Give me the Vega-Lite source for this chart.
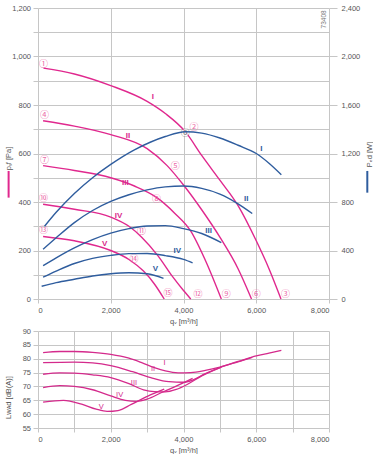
{
  "$schema": "https://vega.github.io/schema/vega-lite/v6.json",
  "background": "white",
  "padding": {"left": 4, "top": 4, "right": 0, "bottom": 0},
  "bounds": "flush",
  "spacing": 32,
  "config": {
    "font": "Liberation Sans",
    "view": {"stroke": null},
    "axis": {
      "grid": true, "gridColor": "#c6c6c6", "gridWidth": 1, "domain": false, "labelOverlap": false,
      "tickColor": "#c6c6c6", "tickSize": 5, "labelFontSize": 7.5, "labelColor": "#555555",
      "titleFontSize": 7.5, "titleFontWeight": "normal", "titleColor": "#555555", "labelPadding": 2.5
    }
  },
  "datasets": {
    "pressure": [
      {"c": "I", "q": 150, "p": 952}, {"c": "I", "q": 1000, "p": 928}, {"c": "I", "q": 2000, "p": 880}, {"c": "I", "q": 3000, "p": 815}, {"c": "I", "q": 3500, "p": 765}, {"c": "I", "q": 4050, "p": 690}, {"c": "I", "q": 4500, "p": 592}, {"c": "I", "q": 5000, "p": 490}, {"c": "I", "q": 5500, "p": 385}, {"c": "I", "q": 6000, "p": 240}, {"c": "I", "q": 6350, "p": 125}, {"c": "I", "q": 6680, "p": 0},
      {"c": "II", "q": 140, "p": 735}, {"c": "II", "q": 1000, "p": 713}, {"c": "II", "q": 2000, "p": 678}, {"c": "II", "q": 3000, "p": 620}, {"c": "II", "q": 3550, "p": 550}, {"c": "II", "q": 4000, "p": 470}, {"c": "II", "q": 4500, "p": 368}, {"c": "II", "q": 5000, "p": 255}, {"c": "II", "q": 5500, "p": 125}, {"c": "II", "q": 5870, "p": 0},
      {"c": "III", "q": 140, "p": 550}, {"c": "III", "q": 1000, "p": 530}, {"c": "III", "q": 2000, "p": 500}, {"c": "III", "q": 2650, "p": 466}, {"c": "III", "q": 3250, "p": 420}, {"c": "III", "q": 3750, "p": 355}, {"c": "III", "q": 4200, "p": 280}, {"c": "III", "q": 4600, "p": 160}, {"c": "III", "q": 5040, "p": 0},
      {"c": "IV", "q": 140, "p": 391}, {"c": "IV", "q": 1000, "p": 370}, {"c": "IV", "q": 2000, "p": 338}, {"c": "IV", "q": 2500, "p": 300}, {"c": "IV", "q": 2850, "p": 255}, {"c": "IV", "q": 3300, "p": 178}, {"c": "IV", "q": 3700, "p": 92}, {"c": "IV", "q": 4000, "p": 35}, {"c": "IV", "q": 4200, "p": 0},
      {"c": "V", "q": 140, "p": 258}, {"c": "V", "q": 1000, "p": 240}, {"c": "V", "q": 2000, "p": 200}, {"c": "V", "q": 2500, "p": 163}, {"c": "V", "q": 2900, "p": 115}, {"c": "V", "q": 3200, "p": 62}, {"c": "V", "q": 3470, "p": 0}
    ],
    "power": [
      {"c": "I", "q": 180, "w": 600}, {"c": "I", "q": 500, "w": 715}, {"c": "I", "q": 1000, "w": 870}, {"c": "I", "q": 1500, "w": 1000}, {"c": "I", "q": 2000, "w": 1110}, {"c": "I", "q": 2650, "w": 1230}, {"c": "I", "q": 3100, "w": 1295}, {"c": "I", "q": 3500, "w": 1340}, {"c": "I", "q": 4050, "w": 1380}, {"c": "I", "q": 4500, "w": 1368}, {"c": "I", "q": 5000, "w": 1328}, {"c": "I", "q": 5500, "w": 1268}, {"c": "I", "q": 6000, "w": 1200}, {"c": "I", "q": 6350, "w": 1120}, {"c": "I", "q": 6690, "w": 1025},
      {"c": "II", "q": 140, "w": 410}, {"c": "II", "q": 500, "w": 505}, {"c": "II", "q": 1000, "w": 630}, {"c": "II", "q": 1500, "w": 730}, {"c": "II", "q": 2000, "w": 805}, {"c": "II", "q": 2500, "w": 860}, {"c": "II", "q": 3000, "w": 900}, {"c": "II", "q": 3500, "w": 925}, {"c": "II", "q": 4000, "w": 932}, {"c": "II", "q": 4500, "w": 912}, {"c": "II", "q": 5000, "w": 865}, {"c": "II", "q": 5500, "w": 785}, {"c": "II", "q": 5890, "w": 705},
      {"c": "III", "q": 140, "w": 275}, {"c": "III", "q": 500, "w": 340}, {"c": "III", "q": 1000, "w": 422}, {"c": "III", "q": 1500, "w": 490}, {"c": "III", "q": 2000, "w": 543}, {"c": "III", "q": 2500, "w": 580}, {"c": "III", "q": 3000, "w": 602}, {"c": "III", "q": 3500, "w": 605}, {"c": "III", "q": 4000, "w": 580}, {"c": "III", "q": 4500, "w": 540}, {"c": "III", "q": 5040, "w": 465},
      {"c": "IV", "q": 140, "w": 180}, {"c": "IV", "q": 500, "w": 230}, {"c": "IV", "q": 1000, "w": 293}, {"c": "IV", "q": 1500, "w": 335}, {"c": "IV", "q": 2000, "w": 360}, {"c": "IV", "q": 2500, "w": 374}, {"c": "IV", "q": 3000, "w": 375}, {"c": "IV", "q": 3500, "w": 358}, {"c": "IV", "q": 4000, "w": 327}, {"c": "IV", "q": 4250, "w": 298},
      {"c": "V", "q": 100, "w": 105}, {"c": "V", "q": 500, "w": 135}, {"c": "V", "q": 1000, "w": 163}, {"c": "V", "q": 1500, "w": 190}, {"c": "V", "q": 2000, "w": 208}, {"c": "V", "q": 2500, "w": 216}, {"c": "V", "q": 3000, "w": 208}, {"c": "V", "q": 3450, "w": 170}
    ],
    "plabels": [
      {"t": "I", "q": 3161, "p": 833}, {"t": "II", "q": 2474, "p": 672}, {"t": "III", "q": 2400, "p": 480}, {"t": "IV", "q": 2216, "p": 342}, {"t": "V", "q": 1831, "p": 226}
    ],
    "wlabels": [
      {"t": "I", "q": 6138, "w": 1240}, {"t": "II", "q": 5726, "w": 828}, {"t": "III", "q": 4690, "w": 560}, {"t": "IV", "q": 3829, "w": 396}, {"t": "V", "q": 3225, "w": 244}
    ],
    "circles": [
      {"t": "①", "q": 154, "p": 971}, {"t": "②", "q": 4288, "p": 711}, {"t": "③", "q": 6807, "p": 22},
      {"t": "④", "q": 181, "p": 758}, {"t": "⑤", "q": 3774, "p": 548}, {"t": "⑥", "q": 6001, "p": 22},
      {"t": "⑦", "q": 181, "p": 573}, {"t": "⑧", "q": 3260, "p": 411}, {"t": "⑨", "q": 5176, "p": 22},
      {"t": "⑩", "q": 154, "p": 418}, {"t": "⑪", "q": 2848, "p": 279}, {"t": "⑫", "q": 4398, "p": 22},
      {"t": "⑬", "q": 154, "p": 283}, {"t": "⑭", "q": 2639, "p": 164}, {"t": "⑮", "q": 3574, "p": 24}
    ],
    "oppoint": [{"t": "⓪", "q": 4049, "p": 686}],
    "code": [{"t": "73408", "q": 7862, "p": 1153}],
    "pkey": [{"q": -808, "p": 528, "p2": 418}],
    "wkey": [{"q": 9053, "w": 1056, "w2": 877}],
    "noise": [
      {"c": "I", "q": 140, "l": 82.2}, {"c": "I", "q": 600, "l": 82.6}, {"c": "I", "q": 1000, "l": 82.6}, {"c": "I", "q": 1500, "l": 82.3}, {"c": "I", "q": 2000, "l": 81.6}, {"c": "I", "q": 2500, "l": 80.2}, {"c": "I", "q": 2850, "l": 78.6}, {"c": "I", "q": 3200, "l": 76.8}, {"c": "I", "q": 3500, "l": 75.6}, {"c": "I", "q": 3850, "l": 74.9}, {"c": "I", "q": 4200, "l": 75.0}, {"c": "I", "q": 4600, "l": 75.8}, {"c": "I", "q": 5000, "l": 77.0}, {"c": "I", "q": 5500, "l": 79.0}, {"c": "I", "q": 6000, "l": 81.0}, {"c": "I", "q": 6350, "l": 82.0}, {"c": "I", "q": 6690, "l": 83.0},
      {"c": "II", "q": 140, "l": 78.6}, {"c": "II", "q": 1000, "l": 78.8}, {"c": "II", "q": 1500, "l": 78.5}, {"c": "II", "q": 2000, "l": 77.5}, {"c": "II", "q": 2600, "l": 75.3}, {"c": "II", "q": 3100, "l": 73.2}, {"c": "II", "q": 3600, "l": 71.7}, {"c": "II", "q": 4000, "l": 71.5}, {"c": "II", "q": 4250, "l": 72.3}, {"c": "II", "q": 4600, "l": 74.6}, {"c": "II", "q": 5000, "l": 76.8}, {"c": "II", "q": 5500, "l": 78.9}, {"c": "II", "q": 5890, "l": 80.5},
      {"c": "III", "q": 140, "l": 74.4}, {"c": "III", "q": 600, "l": 74.9}, {"c": "III", "q": 1000, "l": 74.8}, {"c": "III", "q": 1500, "l": 74.2}, {"c": "III", "q": 2000, "l": 73.2}, {"c": "III", "q": 2500, "l": 71.0}, {"c": "III", "q": 2900, "l": 68.8}, {"c": "III", "q": 3200, "l": 68.1}, {"c": "III", "q": 3500, "l": 68.0}, {"c": "III", "q": 3800, "l": 68.9}, {"c": "III", "q": 4100, "l": 70.7}, {"c": "III", "q": 4500, "l": 73.8}, {"c": "III", "q": 5040, "l": 77.0},
      {"c": "IV", "q": 140, "l": 69.6}, {"c": "IV", "q": 600, "l": 70.3}, {"c": "IV", "q": 1000, "l": 70.0}, {"c": "IV", "q": 1500, "l": 68.8}, {"c": "IV", "q": 2000, "l": 66.6}, {"c": "IV", "q": 2400, "l": 65.0}, {"c": "IV", "q": 2700, "l": 64.6}, {"c": "IV", "q": 3000, "l": 65.4}, {"c": "IV", "q": 3400, "l": 67.8}, {"c": "IV", "q": 3800, "l": 70.1}, {"c": "IV", "q": 4250, "l": 72.9},
      {"c": "V", "q": 140, "l": 64.3}, {"c": "V", "q": 700, "l": 65.0}, {"c": "V", "q": 1200, "l": 63.6}, {"c": "V", "q": 1600, "l": 61.8}, {"c": "V", "q": 1900, "l": 61.0}, {"c": "V", "q": 2200, "l": 61.3}, {"c": "V", "q": 2565, "l": 63.5}, {"c": "V", "q": 3020, "l": 66.5}, {"c": "V", "q": 3470, "l": 69.0}
    ],
    "nlabels": [
      {"t": "I", "q": 3480, "l": 78.3}, {"t": "II", "q": 3161, "l": 76.2}, {"t": "III", "q": 2639, "l": 71.1}, {"t": "IV", "q": 2243, "l": 66.9}, {"t": "V", "q": 1740, "l": 62.7}
    ]
  },
  "vconcat": [
    {
      "width": 291,
      "height": 291,
      "layer": [
        {
          "encoding": {
            "x": {"field": "q", "type": "quantitative", "scale": {"domain": [0, 8000], "nice": false},
              "axis": {"grid": true, "values": [0, 1000, 2000, 3000, 4000, 5000, 6000, 7000, 8000], "labelExpr": "datum.value % 2000 ? '' : format(datum.value, ',')", "title": "qᵥ [m³/h]", "tickSize": 4, "labelPadding": 3, "titlePadding": 4}},
            "y": {"field": "p", "type": "quantitative", "scale": {"domain": [0, 1200], "nice": false},
              "axis": {"grid": true, "values": [0, 100, 200, 300, 400, 500, 600, 700, 800, 900, 1000, 1100, 1200], "labelExpr": "datum.value % 200 ? '' : format(datum.value, ',')", "title": "pₛf [Pa]", "titleX": -26, "titleY": 150}}
          },
          "layer": [
            {
              "data": {"name": "pressure"},
              "mark": {"type": "line", "interpolate": "monotone", "color": "#e0288e", "strokeWidth": 1.4},
              "encoding": {"detail": {"field": "c"}}
            },
            {
              "data": {"name": "plabels"},
              "mark": {"type": "text", "color": "#d92a8c", "fontSize": 8, "fontWeight": "bold"},
              "encoding": {"text": {"field": "t"}}
            },
            {
              "data": {"name": "circles"},
              "mark": {"type": "text", "color": "#ec6aa8", "fontSize": 9, "font": "Noto Sans CJK JP"},
              "encoding": {"text": {"field": "t"}}
            },
            {
              "data": {"name": "oppoint"},
              "mark": {"type": "point", "shape": "circle", "filled": true, "color": "white", "size": 45}
            },
            {
              "data": {"name": "oppoint"},
              "mark": {"type": "text", "color": "#777777", "fontSize": 9, "font": "Noto Sans CJK JP"},
              "encoding": {"text": {"field": "t"}}
            },
            {
              "data": {"name": "code"},
              "mark": {"type": "text", "color": "#777777", "fontSize": 6.5, "angle": 270},
              "encoding": {"text": {"field": "t"}}
            },
            {
              "data": {"name": "pkey"},
              "mark": {"type": "rule", "color": "#e0288e", "strokeWidth": 2, "clip": false},
              "encoding": {"y2": {"field": "p2"}}
            }
          ]
        },
        {
          "encoding": {
            "x": {"field": "q", "type": "quantitative"},
            "y": {"field": "w", "type": "quantitative", "scale": {"domain": [0, 2400], "nice": false},
              "axis": {"orient": "right", "values": [0, 400, 800, 1200, 1600, 2000, 2400], "labelExpr": "format(datum.value, ',')", "grid": false, "tickSize": 8, "labelPadding": 4, "title": "Pₑd [W]", "titleAngle": 270, "titleX": 44, "titleY": 146}}
          },
          "layer": [
            {
              "data": {"name": "power"},
              "mark": {"type": "line", "interpolate": "monotone", "color": "#2f5d9e", "strokeWidth": 1.4},
              "encoding": {"detail": {"field": "c"}}
            },
            {
              "data": {"name": "wlabels"},
              "mark": {"type": "text", "color": "#2f5d9e", "fontSize": 8, "fontWeight": "bold"},
              "encoding": {"text": {"field": "t"}}
            },
            {
              "data": {"name": "wkey"},
              "mark": {"type": "rule", "color": "#2f5d9e", "strokeWidth": 2, "clip": false},
              "encoding": {"y2": {"field": "w2"}}
            }
          ]
        }
      ],
      "resolve": {"scale": {"y": "independent"}, "axis": {"y": "independent"}}
    },
    {
      "width": 291,
      "height": 97,
      "encoding": {
        "x": {"field": "q", "type": "quantitative", "scale": {"domain": [0, 8000], "nice": false},
          "axis": {"grid": true, "values": [0, 1000, 2000, 3000, 4000, 5000, 6000, 7000, 8000], "labelExpr": "datum.value % 2000 ? '' : format(datum.value, ',')", "title": "qᵥ [m³/h]", "tickSize": 4, "labelPadding": 3, "titlePadding": 4}},
        "y": {"field": "l", "type": "quantitative", "scale": {"domain": [55, 90], "nice": false},
          "axis": {"grid": true, "values": [55, 60, 65, 70, 75, 80, 85, 90], "labelExpr": "format(datum.value, 'd')", "title": "Lᴡᴀd [dB(A)]", "titleX": -26, "titleY": 66}}
      },
      "layer": [
        {
          "data": {"name": "noise"},
          "mark": {"type": "line", "interpolate": "monotone", "color": "#d42a8c", "strokeWidth": 1.3},
          "encoding": {"detail": {"field": "c"}}
        },
        {
          "data": {"name": "nlabels"},
          "mark": {"type": "text", "color": "#d42a8c", "fontSize": 7.5},
          "encoding": {"text": {"field": "t"}}
        }
      ]
    }
  ]
}
